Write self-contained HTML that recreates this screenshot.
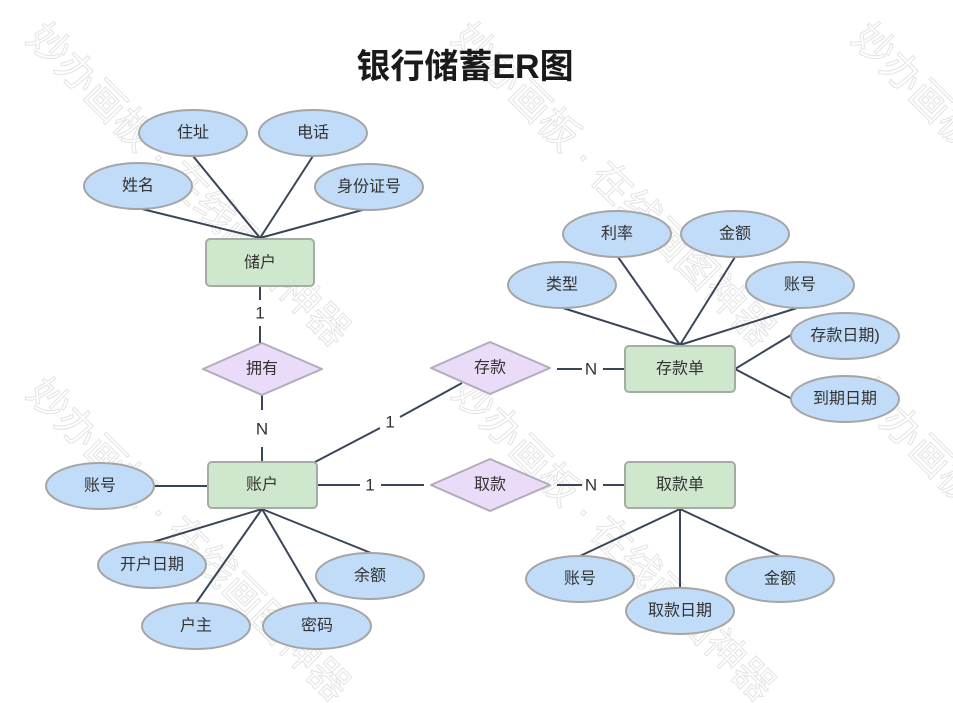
<!DOCTYPE html>
<html>
<head>
<meta charset="utf-8">
<style>
html,body{margin:0;padding:0;background:#fff;}
svg{display:block;}
text{font-family:"Liberation Sans","Noto Sans CJK SC",sans-serif;}
.t{font-size:16px;fill:#333;text-anchor:middle;dominant-baseline:central;}
.lbl{font-size:17px;fill:#333;text-anchor:middle;dominant-baseline:central;}
.e{fill:#c1dcf8;stroke:#a5a5a5;stroke-width:2;}
.r{fill:#cfe8cd;stroke:#a3ada2;stroke-width:2;}
.d{fill:#eadcf8;stroke:#b3abbb;stroke-width:2;stroke-linejoin:round;}
.l{stroke:#3a4658;stroke-width:2;fill:none;}
.wm{font-family:"Noto Sans CJK SC",sans-serif;font-size:40px;fill:none;stroke:#e3e3e3;stroke-width:1;}
</style>
</head>
<body>
<svg width="953" height="703" viewBox="0 0 953 703" xmlns="http://www.w3.org/2000/svg">
<rect width="953" height="703" fill="#fff"/>

<!-- watermarks -->
<g class="wm">
<text transform="translate(25,40) rotate(45)">妙办画板 · 在线画图神器</text>
<text transform="translate(450,40) rotate(45)">妙办画板 · 在线画图神器</text>
<text transform="translate(850,40) rotate(45)">妙办画板 · 在线画图神器</text>
<text transform="translate(25,395) rotate(45)">妙办画板 · 在线画图神器</text>
<text transform="translate(450,395) rotate(45)">妙办画板 · 在线画图神器</text>
<text transform="translate(850,395) rotate(45)">妙办画板 · 在线画图神器</text>
</g>

<!-- title -->
<text x="465" y="67" style="font-family:'Liberation Sans','Noto Sans CJK SC',sans-serif;font-size:34px;font-weight:bold;fill:#1a1a1a;text-anchor:middle;dominant-baseline:central;">银行储蓄ER图</text>

<!-- connectors -->
<g class="l">
<line x1="260" y1="238" x2="138" y2="208"/>
<line x1="260" y1="238" x2="193" y2="156"/>
<line x1="260" y1="238" x2="313" y2="156"/>
<line x1="260" y1="238" x2="366" y2="209"/>
<line x1="260" y1="286" x2="260" y2="300"/>
<line x1="260" y1="326" x2="260" y2="343"/>
<line x1="262" y1="395" x2="262" y2="410"/>
<line x1="262" y1="447" x2="262" y2="462"/>
<line x1="154" y1="486" x2="208" y2="486"/>
<line x1="262" y1="509" x2="153" y2="542"/>
<line x1="262" y1="509" x2="196" y2="603"/>
<line x1="262" y1="509" x2="317" y2="603"/>
<line x1="262" y1="509" x2="371" y2="553"/>
<line x1="315" y1="462" x2="380" y2="428"/>
<line x1="400" y1="417" x2="462" y2="383"/>
<line x1="317" y1="485" x2="360" y2="485"/>
<line x1="381" y1="485" x2="424" y2="485"/>
<line x1="557" y1="369" x2="582" y2="369"/>
<line x1="603" y1="369" x2="625" y2="369"/>
<line x1="557" y1="485" x2="582" y2="485"/>
<line x1="603" y1="485" x2="625" y2="485"/>
<line x1="680" y1="345" x2="563" y2="308"/>
<line x1="680" y1="345" x2="618" y2="257"/>
<line x1="680" y1="345" x2="735" y2="257"/>
<line x1="680" y1="345" x2="797" y2="308"/>
<line x1="735" y1="369" x2="791" y2="335"/>
<line x1="735" y1="369" x2="792" y2="399"/>
<line x1="680" y1="509" x2="580" y2="556"/>
<line x1="680" y1="509" x2="680" y2="588"/>
<line x1="680" y1="509" x2="780" y2="556"/>
</g>

<!-- cardinality labels -->
<text class="lbl" x="260" y="313">1</text>
<text class="lbl" x="262" y="429">N</text>
<text class="lbl" x="390" y="422">1</text>
<text class="lbl" x="370" y="485">1</text>
<text class="lbl" x="591" y="369">N</text>
<text class="lbl" x="591" y="485">N</text>

<!-- entities -->
<rect class="r" x="206" y="239" width="108" height="47" rx="4"/>
<text class="t" x="260" y="263">储户</text>
<rect class="r" x="208" y="462" width="109" height="46" rx="4"/>
<text class="t" x="262" y="485">账户</text>
<rect class="r" x="625" y="346" width="110" height="46" rx="4"/>
<text class="t" x="680" y="369">存款单</text>
<rect class="r" x="625" y="462" width="110" height="46" rx="4"/>
<text class="t" x="680" y="485">取款单</text>

<!-- relationships -->
<polygon class="d" points="262,343 322,369 262,395 203,369"/>
<text class="t" x="262" y="369">拥有</text>
<polygon class="d" points="490,342 550,368 490,394 431,368"/>
<text class="t" x="490" y="368">存款</text>
<polygon class="d" points="490,459 550,485 490,511 431,485"/>
<text class="t" x="490" y="485">取款</text>

<!-- attributes -->
<ellipse class="e" cx="193" cy="133" rx="54" ry="23"/>
<text class="t" x="193" y="133">住址</text>
<ellipse class="e" cx="313" cy="133" rx="54" ry="23"/>
<text class="t" x="313" y="133">电话</text>
<ellipse class="e" cx="138" cy="186" rx="54" ry="23"/>
<text class="t" x="138" y="186">姓名</text>
<ellipse class="e" cx="369" cy="187" rx="54" ry="23"/>
<text class="t" x="369" y="187">身份证号</text>

<ellipse class="e" cx="100" cy="486" rx="54" ry="23"/>
<text class="t" x="100" y="486">账号</text>
<ellipse class="e" cx="152" cy="565" rx="54" ry="23"/>
<text class="t" x="152" y="565">开户日期</text>
<ellipse class="e" cx="196" cy="626" rx="54" ry="23"/>
<text class="t" x="196" y="626">户主</text>
<ellipse class="e" cx="317" cy="626" rx="54" ry="23"/>
<text class="t" x="317" y="626">密码</text>
<ellipse class="e" cx="370" cy="576" rx="54" ry="23"/>
<text class="t" x="370" y="576">余额</text>

<ellipse class="e" cx="617" cy="234" rx="54" ry="23"/>
<text class="t" x="617" y="234">利率</text>
<ellipse class="e" cx="735" cy="234" rx="54" ry="23"/>
<text class="t" x="735" y="234">金额</text>
<ellipse class="e" cx="562" cy="285" rx="54" ry="23"/>
<text class="t" x="562" y="285">类型</text>
<ellipse class="e" cx="800" cy="285" rx="54" ry="23"/>
<text class="t" x="800" y="285">账号</text>
<ellipse class="e" cx="845" cy="336" rx="54" ry="23"/>
<text class="t" x="845" y="336">存款日期)</text>
<ellipse class="e" cx="845" cy="399" rx="54" ry="23"/>
<text class="t" x="845" y="399">到期日期</text>

<ellipse class="e" cx="580" cy="579" rx="54" ry="23"/>
<text class="t" x="580" y="579">账号</text>
<ellipse class="e" cx="680" cy="611" rx="54" ry="23"/>
<text class="t" x="680" y="611">取款日期</text>
<ellipse class="e" cx="780" cy="579" rx="54" ry="23"/>
<text class="t" x="780" y="579">金额</text>
</svg>
</body>
</html>
